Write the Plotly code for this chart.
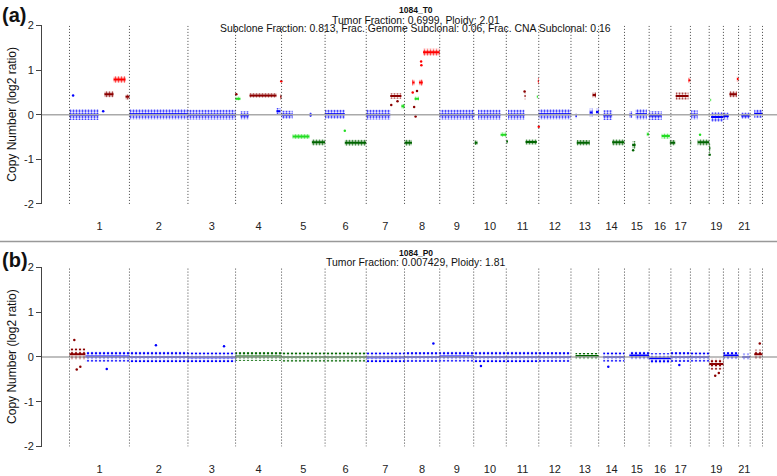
import plotly.graph_objects as go

# ---------------- data ----------------
chrom_len = [249.25, 243.20, 198.02, 191.15, 180.92, 171.12, 159.14, 146.36, 141.21, 135.53, 135.01,
             133.85, 115.17, 107.35, 102.53, 90.35, 81.20, 78.08, 59.13, 63.03, 48.13, 51.30]
chrom_labels = ["1", "2", "3", "4", "5", "6", "7", "8", "9", "10", "11", "12", "13", "14", "15", "16",
                "17", "", "19", "", "21", ""]

# panel (a) 1084_T0 segments: chromosome, start (Mb), end (Mb), log2 level, cloud half-width, state
a_chrom = [1, 1, 1, 1, 2, 3, 4, 4, 4, 4, 4, 5, 5, 5, 5, 6, 6, 7, 7, 7, 8, 8, 8, 8, 8, 9,
           10, 10, 10, 10, 11, 11, 11, 11, 11, 11, 12, 13, 13, 13, 13, 13, 14, 14,
           15, 15, 15, 15, 16, 16, 16, 17, 17, 17, 18, 18, 18, 19, 19, 19, 20, 20, 20, 21, 22]
a_start = [0, 145, 183, 233, 0, 0, 0, 20, 58, 170, 186, 0, 46, 116, 126, 0, 82, 0, 100, 146,
           0, 32, 42, 60, 77, 0, 0, 4, 18, 112, 0, 7, 76, 80, 127, 131, 0, 19, 24, 78, 90, 104,
           19, 56, 20, 32, 46, 93, 0, 52, 86, 0, 20, 73, 0, 3, 30, 0, 5, 8, 0, 25, 56, 11, 17]
a_end = [121, 183, 233, 249, 243, 198, 20, 55, 170, 186, 191, 46, 116, 126, 181, 82, 171, 100, 146, 159,
         31, 42, 60, 76, 146, 141, 4, 16, 112, 136, 7, 76, 80, 127, 131, 135, 134, 24, 78, 90, 104, 115,
         56, 107, 32, 46, 93, 102, 52, 86, 90, 18, 73, 81, 3, 30, 78, 5, 8, 59, 22, 56, 63, 46, 51]
a_level = [0.00, 0.46, 0.79, 0.40, 0.01, 0.00, 0.36, -0.01, 0.43, 0.08, 0.40, 0.00, -0.49, 0.00, -0.62,
           0.01, -0.63, 0.00, 0.42, 0.19, -0.63, 0.72, 0.36, 0.72, 1.40, 0.00, 0.00, -0.63, 0.00, -0.45,
           -0.60, 0.00, 0.42, -0.61, 0.40, 0.75, 0.01, -0.03, -0.63, 0.05, 0.44, 0.06, -0.01, -0.62,
           0.00, -0.68, 0.01, -0.44, -0.02, -0.48, -0.63, -0.63, 0.42, 0.77, -0.63, 0.00, -0.62,
           -0.75, 0.33, -0.05, -0.03, 0.46, 0.80, -0.02, 0.02]
a_spread = [0.12, 0.07, 0.08, 0.06, 0.11, 0.11, 0.04, 0.09, 0.05, 0.07, 0.06, 0.09, 0.05, 0.05, 0.07,
            0.10, 0.07, 0.11, 0.06, 0.05, 0.07, 0.07, 0.04, 0.07, 0.08, 0.11, 0.06, 0.05, 0.11, 0.05,
            0.05, 0.11, 0.09, 0.06, 0.04, 0.07, 0.11, 0.06, 0.06, 0.09, 0.06, 0.08, 0.11, 0.07,
            0.07, 0.09, 0.11, 0.05, 0.10, 0.06, 0.06, 0.06, 0.08, 0.06, 0.05, 0.10, 0.07,
            0.10, 0.04, 0.11, 0.08, 0.07, 0.06, 0.07, 0.09]
a_state = ["NEUT", "GAIN", "AMP", "GAIN", "NEUT", "NEUT", "HOMD", "NEUT", "GAIN", "NEUT", "GAIN",
           "NEUT", "HOMD", "NEUT", "HETD", "NEUT", "HETD", "NEUT", "GAIN", "HOMD",
           "HETD", "AMP", "HOMD", "AMP", "AMP", "NEUT", "NEUT", "HETD", "NEUT", "HOMD",
           "HETD", "NEUT", "GAIN", "HETD", "HOMD", "AMP", "NEUT", "NEUT", "HETD", "NEUT", "GAIN", "NEUT",
           "NEUT", "HETD", "NEUT", "HETD", "NEUT", "HOMD", "NEUT", "HOMD", "HETD", "HETD", "GAIN", "AMP",
           "HETD", "NEUT", "HETD", "HETD", "HOMD", "NEUT", "NEUT", "GAIN", "AMP", "NEUT", "NEUT"]

# panel (a) isolated points: chromosome, position (Mb), log2 ratio, state
a_pt_chrom = [1, 1, 4, 4, 6, 7, 7, 8, 8, 8, 8, 8, 8, 11, 11, 15, 18, 19]
a_pt_pos = [15, 140, 3, 190, 82, 104, 130, 34, 40, 46, 52, 69, 70, 135, 76, 36, 40, 2]
a_pt_val = [0.43, 0.08, 0.46, 0.75, -0.36, 0.22, 0.30, 0.50, 0.17, -0.04, 0.53, 1.19, 1.11, -0.27, 0.52, -0.80, -0.45, -0.90]
a_pt_state = ["NEUT", "NEUT", "GAIN", "AMP", "HOMD", "GAIN", "GAIN", "AMP", "GAIN", "GAIN", "GAIN", "AMP", "AMP",
              "AMP", "GAIN", "HETD", "HOMD", "HETD"]

# panel (b) 1084_P0 segments
b_chrom = [1, 1, 2, 3, 4, 5, 6, 7, 8, 9, 10, 11, 12, 13, 14, 15, 16, 17, 18, 19, 20, 21, 22]
b_start = [0, 66, 0, 0, 0, 0, 0, 0, 0, 0, 0, 0, 0, 19, 19, 20, 0, 0, 0, 0, 0, 15, 17]
b_end = [66, 249, 243, 198, 191, 181, 171, 159, 146, 141, 136, 135, 134, 115, 107, 102, 90, 81, 78, 59, 63, 48, 51]
b_level = [0.06, 0.01, 0.00, -0.01, 0.01, 0.00, 0.00, -0.01, 0.00, 0.01, 0.00, 0.00, 0.00, 0.02,
           0.00, 0.03, -0.03, 0.00, 0.00, -0.16, 0.03, 0.00, 0.06]
b_spread = [0.13, 0.11, 0.12, 0.11, 0.10, 0.10, 0.10, 0.11, 0.11, 0.11, 0.12, 0.12, 0.11, 0.07,
            0.10, 0.09, 0.11, 0.11, 0.10, 0.12, 0.08, 0.07, 0.10]
b_state = ["GAIN", "NEUT", "NEUT", "NEUT", "HETD", "HETD", "HETD", "NEUT", "NEUT", "NEUT", "NEUT", "NEUT",
           "NEUT", "HETD", "NEUT", "NEUT", "NEUT", "NEUT", "NEUT", "GAIN", "NEUT", "NEUT", "GAIN"]

b_pt_chrom = [1, 1, 1, 1, 2, 3, 8, 10, 14, 17, 19, 19, 22]
b_pt_pos = [20, 30, 45, 155, 110, 150, 120, 30, 40, 35, 25, 40, 40]
b_pt_val = [0.38, -0.28, -0.22, -0.27, 0.26, 0.24, 0.30, -0.20, -0.22, -0.18, -0.42, -0.36, 0.30]
b_pt_state = ["GAIN", "GAIN", "GAIN", "NEUT", "NEUT", "NEUT", "NEUT", "NEUT", "NEUT", "NEUT", "GAIN", "GAIN", "GAIN"]

state_color = {"HOMD": "#22DD22", "HETD": "#006400", "NEUT": "#0000FF", "GAIN": "#8B0000", "AMP": "#FF0000"}
state_rgb = {"HOMD": (34, 221, 34), "HETD": (0, 100, 0), "NEUT": (0, 0, 255), "GAIN": (139, 0, 0), "AMP": (255, 0, 0)}

# ---------------- geometry helpers ----------------
offsets = [0.0]
for L in chrom_len:
    offsets.append(offsets[-1] + L)
mids = [offsets[i] + chrom_len[i] / 2 for i in range(len(chrom_len))]
tickvals = [m for m, t in zip(mids, chrom_labels) if t]
ticktext = [t for t in chrom_labels if t]

W, H = 777, 476
FONT = "Liberation Sans, Arial, sans-serif"


def gx(c, p):
    return offsets[c - 1] + p


fig = go.Figure()


def add_panel(xa, ya, chrom, start, end, level, spread, state, pc, pp, pv, ps, alpha, solid, psize):
    for st in ["NEUT", "HETD", "HOMD", "GAIN", "AMP"]:
        bx, by, lx, ly = [], [], [], []
        for c, s, e, v, w, k in zip(chrom, start, end, level, spread, state):
            if k != st:
                continue
            x0, x1 = gx(c, s), gx(c, e)
            bx += [x0, x1, x1, x0, x0, None]
            by += [v - w, v - w, v + w, v + w, v - w, None]
            lx += [x0, x1, None]
            ly += [v, v, None]
        if not bx:
            continue
        r, g, b = state_rgb[st]
        fig.add_trace(go.Scatter(
            x=bx, y=by, xaxis=xa, yaxis=ya, mode="lines", fill="toself",
            line=dict(width=0), fillcolor=f"rgba({r},{g},{b},{alpha})",
            fillpattern=dict(shape=".", fgcolor=state_color[st], bgcolor="rgba(0,0,0,0)",
                             fgopacity=1, size=psize, solidity=solid, fillmode="overlay"),
            hoverinfo="skip", showlegend=False))
        fig.add_trace(go.Scatter(
            x=lx, y=ly, xaxis=xa, yaxis=ya, mode="lines",
            line=dict(color=state_color[st], width=2), hoverinfo="skip", showlegend=False))
    fig.add_trace(go.Scatter(
        x=[gx(c, p) for c, p in zip(pc, pp)], y=pv, xaxis=xa, yaxis=ya, mode="markers",
        marker=dict(size=2.5, color=[state_color[k] for k in ps]), hoverinfo="skip", showlegend=False))


add_panel("x", "y", a_chrom, a_start, a_end, a_level, a_spread, a_state,
          a_pt_chrom, a_pt_pos, a_pt_val, a_pt_state, 0.2, 0.4, 3)
add_panel("x2", "y2", b_chrom, b_start, b_end, b_level, b_spread, b_state,
          b_pt_chrom, b_pt_pos, b_pt_val, b_pt_state, 0.08, 0.3, 4)

# pixel layout
left_px = 42
first_px, last_px = 69.5, 762.5
mb_per_px = offsets[-1] / (last_px - first_px)
xrange = [-(first_px - left_px) * mb_per_px, offsets[-1] + (W - last_px) * mb_per_px]


def ydom(top, bot):
    return [1 - bot / H, 1 - top / H]


xax = dict(domain=[left_px / W, 1], range=xrange, showgrid=False, zeroline=False, showline=False,
           tickvals=tickvals, ticktext=ticktext, ticks="outside", ticklen=12,
           tickcolor="rgba(0,0,0,0)", tickfont=dict(size=11, color="#222", family=FONT))
yax = dict(range=[-2, 2], showgrid=False, zeroline=False, showline=True, linecolor="#444",
           linewidth=1, ticks="outside", ticklen=5, tickcolor="#444",
           tickvals=[-2, -1, 0, 1, 2], ticktext=["-2", "-1", "0", "1", "2"],
           tickfont=dict(size=11, color="#222", family=FONT))

shapes = []
for xa, ya in [("x", "y"), ("x2", "y2")]:
    shapes.append(dict(type="line", xref=f"{xa} domain", yref=ya, x0=0, x1=1, y0=0, y1=0,
                       line=dict(color="#AAAAAA", width=1.5), layer="above"))
    for o in offsets:
        shapes.append(dict(type="line", xref=xa, yref=ya, x0=o, x1=o, y0=-2, y1=2,
                           line=dict(color="#444444", width=1, dash="1px,2px"), layer="above"))
shapes.append(dict(type="line", xref="paper", yref="paper", x0=0, x1=1, y0=1 - 241.5 / H, y1=1 - 241.5 / H,
                   line=dict(color="#999999", width=1.5)))


def ann(text, xpx, ypx, size, xanchor="center", bold=False, angle=0):
    return dict(text=f"<b>{text}</b>" if bold else text, x=xpx / W, y=1 - ypx / H, xref="paper", yref="paper",
                xanchor=xanchor, yanchor="middle", showarrow=False, textangle=angle,
                font=dict(size=size, color="#111", family=FONT))


annotations = [
    ann("(a)", 0, 9, 20, "left", True),
    ann("(b)", 0, 261, 20, "left", True),
    ann("1084_T0", 415.5, 4.5, 8.5, bold=True),
    ann("Tumor Fraction: 0.6999, Ploidy: 2.01", 415.5, 14.5, 10.4),
    ann("Subclone Fraction: 0.813, Frac. Genome Subclonal: 0.06, Frac. CNA Subclonal: 0.16", 415.5, 23.5, 10.4),
    ann("1084_P0", 415.5, 253, 8.5, bold=True),
    ann("Tumor Fraction: 0.007429, Ploidy: 1.81", 415.5, 263.5, 10.4),
    ann("Copy Number (log2 ratio)", 12, 111.5, 12, angle=-90),
    ann("Copy Number (log2 ratio)", 12, 360, 12, angle=-90),
]

fig.update_layout(
    width=W, height=H, margin=dict(l=0, r=0, t=0, b=0),
    paper_bgcolor="white", plot_bgcolor="white", showlegend=False,
    xaxis=dict(xax, anchor="y"), yaxis=dict(yax, domain=ydom(20, 203), anchor="x"),
    xaxis2=dict(xax, anchor="y2"), yaxis2=dict(yax, domain=ydom(268, 452), anchor="x2"),
    shapes=shapes, annotations=annotations,
    font=dict(family=FONT),
)

fig.write_html("out.html", config={"displayModeBar": False},
               post_script="document.body.style.margin='0';document.body.style.overflow='hidden';")
